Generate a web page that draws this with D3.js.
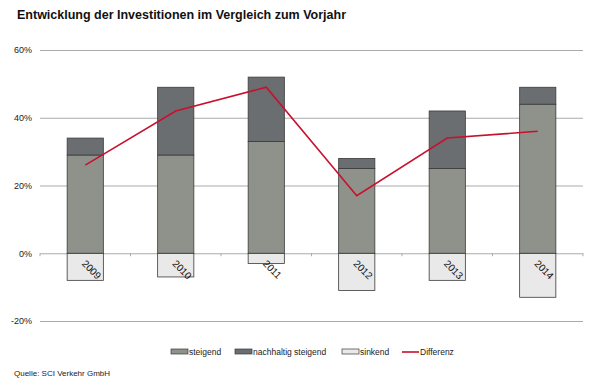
<!DOCTYPE html>
<html>
<head>
<meta charset="utf-8">
<script src="https://cdn.jsdelivr.net/npm/d3@7"></script>
<style>
  body { margin: 0; background: #fff; }
  svg { font-family: "Liberation Sans", Arial, sans-serif; }
</style>
</head>
<body>
<svg width="600" height="387"></svg>
<script>
'use strict';
// ........ data ........
const years = ['2009', '2010', '2011', '2012', '2013', '2014'];
const steigend = [29, 29, 33, 25, 25, 44];
const nachhaltig = [5, 20, 19, 3, 17, 5];
const sinkend = [-8, -7, -3, -11, -8, -13];
const differenz = [26, 42, 49, 17, 34, 36];
const yTicks = [-20, 0, 20, 40, 60];

const svg = d3.select('svg');

const plot = { left: 40, right: 583, top: 50, bottom: 321 };

const x = d3.scaleBand()
  .domain(years)
  .range([plot.left, plot.right])
  .paddingInner(0.6)
  .paddingOuter(0.3);

const y = d3.scaleLinear()
  .domain([-20, 60])
  .range([plot.bottom, plot.top]);

const colors = {
  steigend: '#8f928a',
  nachhaltig: '#6b6e70',
  sinkend: '#e9e9e9',
  line: '#c8102e'
};

// title
svg.append('text')
  .attr('x', 17)
  .attr('y', 19)
  .attr('font-size', 12.5)
  .attr('font-weight', 'bold')
  .attr('fill', '#111')
  .text('Entwicklung der Investitionen im Vergleich zum Vorjahr');

// grid + y labels
const yAxis = d3.axisLeft(y)
  .tickValues(yTicks)
  .tickSize(-(plot.right - plot.left))
  .tickPadding(8)
  .tickFormat(d => d + '%');

const gY = svg.append('g')
  .attr('transform', `translate(${plot.left},0)`)
  .call(yAxis);
gY.select('.domain').remove();
gY.selectAll('.tick line').attr('stroke', '#ababab').attr('stroke-width', 1);
gY.selectAll('.tick text').attr('font-size', 9).attr('fill', '#222')
  .attr('font-family', '"Liberation Sans", Arial, sans-serif');

// small ticks on zero line between categories
const bounds = d3.range(years.length + 1).map(i => plot.left + i * (plot.right - plot.left) / years.length);
svg.append('g').selectAll('line')
  .data(bounds)
  .join('line')
  .attr('x1', d => d).attr('x2', d => d)
  .attr('y1', y(0)).attr('y2', y(0) + 3)
  .attr('stroke', '#ababab');

const bars = svg.append('g').attr('stroke', '#3a3a3a').attr('stroke-width', 0.8);

// sinkend
bars.selectAll('.sink')
  .data(years)
  .join('rect')
  .attr('x', d => x(d))
  .attr('width', x.bandwidth())
  .attr('y', y(0))
  .attr('height', (d, i) => y(sinkend[i]) - y(0))
  .attr('fill', colors.sinkend);

// steigend
bars.selectAll('.st')
  .data(years)
  .join('rect')
  .attr('x', d => x(d))
  .attr('width', x.bandwidth())
  .attr('y', (d, i) => y(steigend[i]))
  .attr('height', (d, i) => y(0) - y(steigend[i]))
  .attr('fill', colors.steigend);

// nachhaltig steigend
bars.selectAll('.ns')
  .data(years)
  .join('rect')
  .attr('x', d => x(d))
  .attr('width', x.bandwidth())
  .attr('y', (d, i) => y(steigend[i] + nachhaltig[i]))
  .attr('height', (d, i) => y(steigend[i]) - y(steigend[i] + nachhaltig[i]))
  .attr('fill', colors.nachhaltig);

// year labels (rotated)
svg.append('g').selectAll('text')
  .data(years)
  .join('text')
  .attr('transform', d => `translate(${x(d) + x.bandwidth() / 2 - 4},${y(0) + 11}) rotate(45)`)
  .attr('font-size', 10)
  .attr('fill', '#111')
  .text(d => d);

// Differenz line
const line = d3.line()
  .x((d, i) => x(years[i]) + x.bandwidth() / 2)
  .y(d => y(d));

svg.append('path')
  .datum(differenz)
  .attr('d', line)
  .attr('fill', 'none')
  .attr('stroke', colors.line)
  .attr('stroke-width', 1.6);

// legend
const legend = [
  { name: 'steigend', x: 171, type: 'rect', fill: colors.steigend },
  { name: 'nachhaltig steigend', x: 235, type: 'rect', fill: colors.nachhaltig },
  { name: 'sinkend', x: 342, type: 'rect', fill: colors.sinkend },
  { name: 'Differenz', x: 402, type: 'line', fill: colors.line }
];
const lg = svg.append('g').attr('transform', 'translate(0,352)');
legend.forEach(l => {
  if (l.type === 'rect') {
    lg.append('rect')
      .attr('x', l.x).attr('y', -3)
      .attr('width', 17).attr('height', 5)
      .attr('fill', l.fill).attr('stroke', '#3a3a3a').attr('stroke-width', 0.7);
  } else {
    lg.append('line')
      .attr('x1', l.x).attr('x2', l.x + 17)
      .attr('y1', 0).attr('y2', 0)
      .attr('stroke', l.fill).attr('stroke-width', 1.6);
  }
  lg.append('text')
    .attr('x', l.x + 18).attr('y', 3)
    .attr('font-size', 8.5)
    .attr('fill', '#222')
    .text(l.name);
});

// source
svg.append('text')
  .attr('x', 14).attr('y', 376)
  .attr('font-size', 8)
  .attr('fill', '#222')
  .text('Quelle: SCI Verkehr GmbH');
</script>
</body>
</html>
